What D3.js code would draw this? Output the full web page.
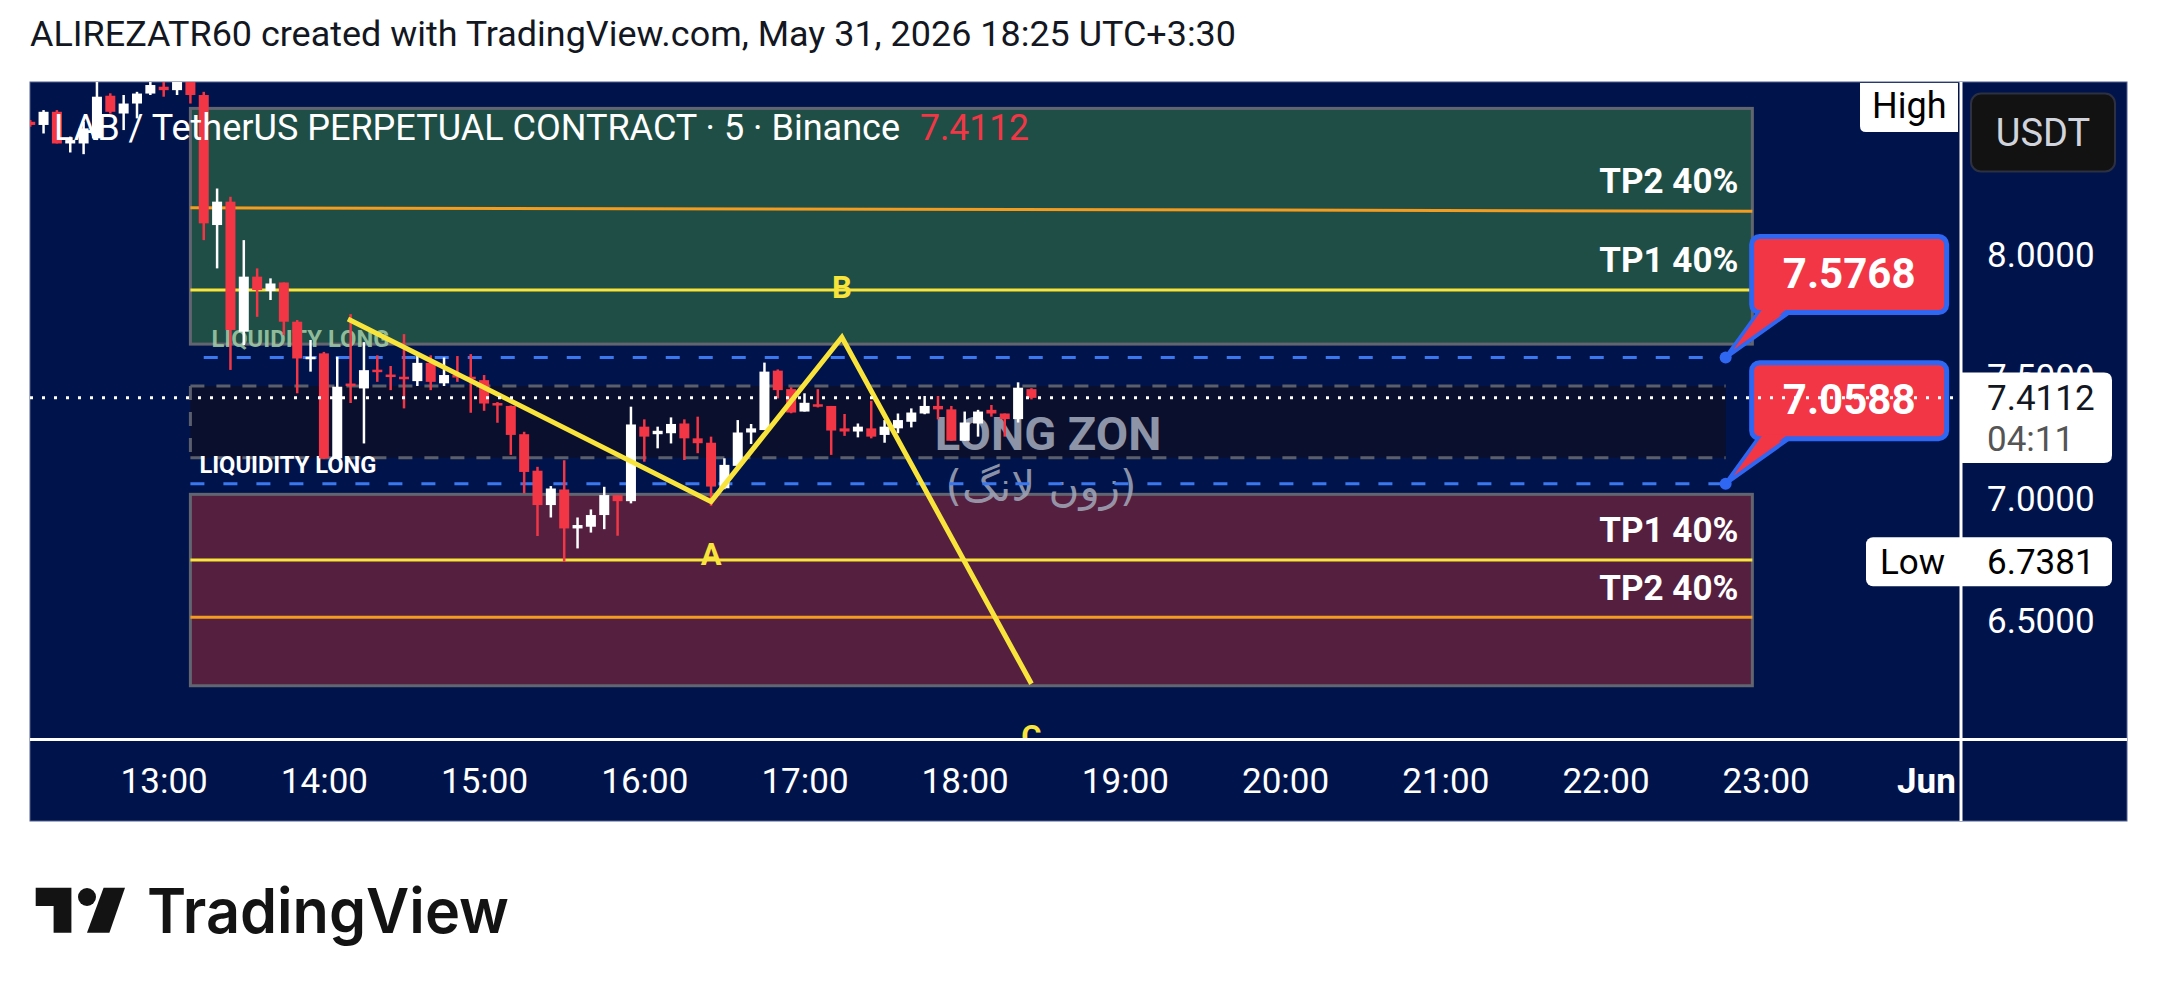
<!DOCTYPE html>
<html><head><meta charset="utf-8">
<script src="https://cdn.jsdelivr.net/npm/d3@7"></script>
<style>body{margin:0;background:#fff;overflow:hidden} svg{display:block}</style>
</head><body>
<svg id="c" width="2157" height="1002"></svg>
<script>
// ---------- DATA ----------
const candleTimes = ["12:10","12:15","12:20","12:25","12:30","12:35","12:40","12:45","12:50","12:55",
"13:00","13:05","13:10","13:15","13:20","13:25","13:30","13:35","13:40","13:45","13:50","13:55",
"14:00","14:05","14:10","14:15","14:20","14:25","14:30","14:35","14:40","14:45","14:50","14:55",
"15:00","15:05","15:10","15:15","15:20","15:25","15:30","15:35","15:40","15:45","15:50","15:55",
"16:00","16:05","16:10","16:15","16:20","16:25","16:30","16:35","16:40","16:45","16:50","16:55",
"17:00","17:05","17:10","17:15","17:20","17:25","17:30","17:35","17:40","17:45","17:50","17:55",
"18:00","18:05","18:10","18:15","18:20","18:25"];
const opens = [8.545,8.532,8.586,8.456,8.456,8.477,8.652,8.579,8.620,8.661,
8.689,8.675,8.709,8.655,8.121,8.217,7.683,7.909,7.850,7.885,7.724,7.573,
7.594,7.163,7.470,7.450,7.527,7.507,7.498,7.480,7.555,7.471,7.505,7.498,
7.484,7.390,7.378,7.262,7.112,6.971,7.035,6.875,6.882,6.930,7.012,6.987,
7.293,7.262,7.266,7.306,7.245,7.227,7.040,7.132,7.269,7.279,7.523,7.447,
7.355,7.385,7.378,7.286,7.273,7.286,7.259,7.286,7.313,7.347,7.378,7.364,
7.235,7.306,7.362,7.347,7.324,7.447];
const highs = [8.552,8.593,8.593,8.484,8.545,8.716,8.662,8.655,8.668,8.716,
8.709,8.730,8.716,8.668,8.271,8.237,8.059,7.943,7.902,7.885,7.731,7.649,
7.600,7.580,7.755,7.640,7.586,7.542,7.673,7.594,7.586,7.577,7.583,7.591,
7.505,7.394,7.380,7.272,7.128,7.049,7.155,6.920,6.953,7.046,7.012,7.375,
7.323,7.293,7.331,7.323,7.334,7.252,7.163,7.320,7.304,7.556,7.528,7.455,
7.430,7.447,7.378,7.345,7.306,7.399,7.320,7.347,7.368,7.419,7.419,7.378,
7.355,7.362,7.382,7.347,7.475,7.451];
const lows = [8.525,8.497,8.456,8.419,8.412,8.470,8.579,8.511,8.559,8.655,
8.648,8.655,8.620,8.059,7.943,7.526,7.628,7.744,7.813,7.669,7.430,7.519,
7.160,7.160,7.390,7.224,7.477,7.443,7.368,7.460,7.443,7.460,7.477,7.350,
7.358,7.309,7.177,7.019,6.844,6.920,6.7381,6.793,6.858,6.872,6.845,6.978,
7.149,7.204,7.224,7.156,7.184,6.968,7.036,7.132,7.222,7.279,7.409,7.348,
7.355,7.372,7.177,7.255,7.249,7.245,7.227,7.266,7.290,7.344,7.323,7.235,
7.235,7.252,7.334,7.252,7.310,7.405];
const closes = [8.532,8.586,8.456,8.470,8.518,8.648,8.586,8.620,8.661,8.696,
8.675,8.709,8.655,8.128,8.217,7.690,7.909,7.854,7.881,7.724,7.573,7.580,
7.163,7.457,7.460,7.525,7.518,7.498,7.491,7.555,7.477,7.505,7.496,7.488,
7.388,7.381,7.259,7.107,6.971,7.039,6.875,6.889,6.930,7.012,6.987,7.302,
7.252,7.276,7.304,7.245,7.225,7.047,7.136,7.269,7.286,7.519,7.443,7.351,
7.391,7.375,7.277,7.273,7.293,7.252,7.293,7.320,7.351,7.378,7.364,7.235,
7.310,7.355,7.347,7.324,7.453,7.4112];

const timeTickLabels = ["13:00","14:00","15:00","16:00","17:00","18:00","19:00","20:00","21:00","22:00","23:00","Jun"];
const priceTicks = [8.0, 7.5, 7.0, 6.5];

// zones: [bottom, top] prices
const zoneTimes = ["13:10","22:55"];
const upperZone = [7.632, 8.600];
const upperTP2 = [8.192, 8.178];   // start / end (slightly sloped)
const upperTP1 = [7.854, 7.854];
const lowerZone = [6.229, 7.015];
const lowerTP1 = [6.745, 6.745];
const lowerTP2 = [6.510, 6.510];
const longBand = [7.1655, 7.460];
const bandTimes = ["13:10","22:45"];
const liquidityLevels = [7.5768, 7.0588];
const liquidityStart = ["13:15","13:10"];
const liquidityEnd = "22:45";
const patternTimes = ["14:09","16:25","17:14","18:25"];
const patternPrices = [7.735, 6.985, 7.660, 6.237];
const patternLabels = ["", "A", "B", "C"];
const lastPrice = 7.4112;
const sessionLow = 6.7381;
const countdown = "04:11";

// ---------- SETUP ----------
const svg = d3.select("#c");
const toMin = s => { if (s === "Jun") return 24*60; const [h,m] = s.split(":").map(Number); return h*60+m; };
const x = d3.scaleLinear().domain([toMin("13:00"), toMin("23:00")]).range([163.7, 1765.7]);
const y = d3.scaleLinear().domain([7, 8]).range([498, 254.5]);

const P = {l:30, t:82, r:2127, b:821, sepY:739.5, sepX:1961};
const C = {bg:"#00144b", red:"#f23645", white:"#ffffff", yellow:"#f9e43c", orange:"#f39c1f",
  blue:"#3b78f0", green:"#1f4e46", maroon:"#551f40", band:"#0a0f2d", gray:"#62656f"};
const FONT = "Roboto, 'Liberation Sans', sans-serif";

// header
svg.append("text").attr("x",30).attr("y",34).attr("dy","0.35em")
  .attr("font-family",FONT).attr("font-size",35).attr("fill","#131722")
  .attr("textLength",1206).attr("lengthAdjust","spacingAndGlyphs")
  .text("ALIREZATR60 created with TradingView.com, May 31, 2026 18:25 UTC+3:30");

// panel
svg.append("rect").attr("x",P.l).attr("y",P.t).attr("width",P.r-P.l).attr("height",P.b-P.t)
  .attr("fill",C.bg).attr("stroke","#50608f").attr("stroke-width",1);

svg.append("clipPath").attr("id","plot").append("rect")
  .attr("x",P.l).attr("y",P.t).attr("width",P.sepX-P.l).attr("height",P.sepY-1.5-P.t);
const g = svg.append("g").attr("clip-path","url(#plot)");

// zones
const zx0 = x(toMin(zoneTimes[0])), zx1 = x(toMin(zoneTimes[1]));
function zone(range, fill){
  g.append("rect").attr("x",zx0).attr("y",y(range[1])).attr("width",zx1-zx0)
   .attr("height",y(range[0])-y(range[1])).attr("fill",fill).attr("stroke",C.gray).attr("stroke-width",3);
}
zone(upperZone, C.green);
zone(lowerZone, C.maroon);
const bx0 = x(toMin(bandTimes[0])), bx1 = x(toMin(bandTimes[1]));
g.append("rect").attr("x",bx0).attr("y",y(longBand[1])).attr("width",bx1-bx0)
  .attr("height",y(longBand[0])-y(longBand[1])).attr("fill",C.band);
[longBand[1], longBand[0]].forEach(v=>{
  g.append("line").attr("x1",bx0).attr("x2",bx1).attr("y1",y(v)).attr("y2",y(v))
   .attr("stroke","#5b5f6b").attr("stroke-width",3).attr("stroke-dasharray","14,12");
});
g.append("line").attr("x1",bx0).attr("x2",bx0).attr("y1",y(longBand[1])).attr("y2",y(longBand[0]))
  .attr("stroke","#5b5f6b").attr("stroke-width",3).attr("stroke-dasharray","14,12");

function tpLine(vals, color){
  g.append("line").attr("x1",zx0).attr("x2",zx1).attr("y1",y(vals[0])).attr("y2",y(vals[1]))
   .attr("stroke",color).attr("stroke-width",3);
}
tpLine(upperTP2, C.orange); tpLine(upperTP1, C.yellow);
tpLine(lowerTP1, C.yellow); tpLine(lowerTP2, C.orange);

function tpLabel(vals, txt){
  g.append("text").attr("x",zx1-14).attr("y",y(vals[1])-30).attr("dy","0.35em")
   .attr("text-anchor","end").attr("font-family",FONT).attr("font-weight",700)
   .attr("font-size",35).attr("fill","#fff")
   .attr("textLength",139).attr("lengthAdjust","spacingAndGlyphs").text(txt);
}
tpLabel(upperTP2,"TP2 40%"); tpLabel(upperTP1,"TP1 40%");
tpLabel(lowerTP1,"TP1 40%"); tpLabel(lowerTP2,"TP2 40%");

// zone texts
g.append("text").attr("x",zx0+21).attr("y",y(upperZone[0])-6).attr("dy","0.35em")
  .attr("font-family",FONT).attr("font-weight",700).attr("font-size",24)
  .attr("fill","#a4cfa9").attr("opacity",0.85)
  .attr("textLength",178).attr("lengthAdjust","spacingAndGlyphs").text("LIQUIDITY LONG");
g.append("text").attr("x",zx0+9).attr("y",y(longBand[0])+6.5).attr("dy","0.35em")
  .attr("font-family",FONT).attr("font-weight",700).attr("font-size",24)
  .attr("fill","#fff").attr("textLength",177).attr("lengthAdjust","spacingAndGlyphs").text("LIQUIDITY LONG");
g.append("text").attr("x",1048).attr("y",y(longBand[0])-24).attr("dy","0.35em")
  .attr("text-anchor","middle").attr("font-family",FONT).attr("font-weight",700)
  .attr("font-size",47).attr("fill","#8d94a7").text("LONG ZON");
g.append("text").attr("x",1041).attr("y",y(longBand[0])+29).attr("dy","0.35em")
  .attr("text-anchor","middle").attr("font-family","'DejaVu Sans', sans-serif").attr("font-weight",400)
  .attr("font-size",42).attr("fill","#a3a8ba").attr("opacity",0.85).text("(زون لانگ)");

// liquidity dashed lines
liquidityLevels.forEach((lv,i)=>{
  g.append("line").attr("x1",x(toMin(liquidityStart[i]))).attr("x2",x(toMin(liquidityEnd)))
   .attr("y1",y(lv)).attr("y2",y(lv)).attr("stroke",C.blue).attr("stroke-width",3)
   .attr("stroke-dasharray","14,19");
});

// candles
const candles = candleTimes.map((t,i)=>({t:toMin(t), o:opens[i], h:highs[i], l:lows[i], c:closes[i]}));
const cg = g.append("g");
cg.selectAll("line.w").data(candles).join("line").attr("class","w")
  .attr("x1",d=>x(d.t)).attr("x2",d=>x(d.t)).attr("y1",d=>y(d.h)).attr("y2",d=>y(d.l))
  .attr("stroke",d=>d.c>=d.o?C.white:C.red).attr("stroke-width",2.5);
cg.selectAll("rect.b").data(candles).join("rect").attr("class","b")
  .attr("x",d=>x(d.t)-5).attr("width",10)
  .attr("y",d=>y(Math.max(d.o,d.c)))
  .attr("height",d=>Math.max(2.5, Math.abs(y(d.o)-y(d.c))))
  .attr("fill",d=>d.c>=d.o?C.white:C.red);

// pattern
const pts = patternTimes.map((t,i)=>[x(toMin(t)), y(patternPrices[i])]);
g.append("path").attr("d",d3.line()(pts)).attr("fill","none").attr("stroke",C.yellow)
  .attr("stroke-width",5).attr("stroke-linejoin","miter");
pts.forEach((p,i)=>{
  if(!patternLabels[i]) return;
  const above = i===2;
  g.append("text").attr("x",p[0]).attr("y",above? p[1]-50 : p[1]+52).attr("dy","0.35em")
   .attr("text-anchor","middle").attr("font-family",FONT).attr("font-weight",700)
   .attr("font-size",31).attr("fill",C.yellow).text(patternLabels[i]);
});

// title overlay
g.append("text").attr("x",54).attr("y",127.5).attr("dy","0.35em")
  .attr("font-family",FONT).attr("font-size",36).attr("fill","#fff")
  .attr("textLength",846).attr("lengthAdjust","spacingAndGlyphs")
  .text("LAB / TetherUS PERPETUAL CONTRACT · 5 · Binance");
g.append("text").attr("x",920).attr("y",127.5).attr("dy","0.35em")
  .attr("font-family",FONT).attr("font-size",36).attr("fill",C.red)
  .attr("textLength",109).attr("lengthAdjust","spacingAndGlyphs")
  .text(d3.format(".4f")(lastPrice));

// callouts
liquidityLevels.forEach(lv=>{
  const cx = x(toMin(liquidityEnd)), cy = y(lv);
  svg.append("path").attr("d",`M${cx+34},${cy-47} L${cx+66},${cy-47} L${cx},${cy} Z`)
    .attr("fill",C.red).attr("stroke","#2f66f2").attr("stroke-width",4).attr("stroke-linejoin","round");
  svg.append("rect").attr("x",cx+26).attr("y",cy-121).attr("width",195).attr("height",76).attr("rx",8)
    .attr("fill",C.red).attr("stroke","#2f66f2").attr("stroke-width",5);
  svg.append("path").attr("d",`M${cx+37},${cy-49} L${cx+62},${cy-49} L${cx+8},${cy-8} Z`).attr("fill",C.red);
  svg.append("circle").attr("cx",cx).attr("cy",cy).attr("r",6).attr("fill","#2f66f2");
  svg.append("text").attr("x",cx+123.5).attr("y",cy-84).attr("dy","0.35em").attr("text-anchor","middle")
    .attr("font-family",FONT).attr("font-weight",700).attr("font-size",42).attr("fill","#fff")
    .text(d3.format(".4f")(lv));
});

// current price dotted line
svg.append("line").attr("x1",P.l).attr("x2",P.sepX).attr("y1",y(lastPrice)).attr("y2",y(lastPrice))
  .attr("stroke","#fff").attr("stroke-width",3).attr("stroke-dasharray","3,9");

// separators
svg.append("line").attr("x1",P.l).attr("x2",P.r).attr("y1",P.sepY).attr("y2",P.sepY)
  .attr("stroke","#fff").attr("stroke-width",3);
svg.append("line").attr("x1",P.sepX).attr("x2",P.sepX).attr("y1",P.t).attr("y2",P.b)
  .attr("stroke","#fff").attr("stroke-width",3);

// time axis
const xAxis = d3.axisBottom(x).tickValues(timeTickLabels.map(toMin))
  .tickFormat((d,i)=>timeTickLabels[i]).tickSize(0).tickPadding(0);
const gx = svg.append("g").attr("transform","translate(0,781)").call(xAxis);
gx.select(".domain").remove();
gx.selectAll("text").attr("y",0).attr("dy","0.35em").attr("fill","#fff")
  .style("font-family",FONT).style("font-size","35px")
  .style("font-weight",d=>d===toMin("Jun")?700:400);

// price axis
const yAxis = d3.axisRight(y).tickValues(priceTicks).tickFormat(d3.format(".4f")).tickSize(0).tickPadding(0);
const gy = svg.append("g").attr("transform","translate(1987,0)").call(yAxis);
gy.select(".domain").remove();
gy.selectAll("text").attr("x",0).attr("dy","0.35em").attr("fill","#fff")
  .style("font-family",FONT).style("font-size","35px");

// High label
svg.append("path").attr("d","M1860,83 H1958 V132 H1866 Q1860,132 1860,126 Z").attr("fill","#fff");
svg.append("text").attr("x",1872).attr("y",105).attr("dy","0.35em").attr("font-family",FONT)
  .attr("font-size",36).attr("fill","#000").text("High");

// USDT
svg.append("rect").attr("x",1971).attr("y",93.5).attr("width",144).attr("height",78).attr("rx",10)
  .attr("fill","#121212").attr("stroke","#2c3040").attr("stroke-width",2);
svg.append("text").attr("x",2043).attr("y",133).attr("dy","0.35em").attr("text-anchor","middle")
  .attr("font-family",FONT).attr("font-size",38).attr("fill","#d1d4dc").text("USDT");

// current price label
svg.append("path").attr("d","M1962,372.5 H2104 Q2112,372.5 2112,380.5 V455 Q2112,463 2104,463 H1962 Z").attr("fill","#fff");
svg.append("text").attr("x",1987).attr("y",y(lastPrice)).attr("dy","0.35em").attr("font-family",FONT)
  .attr("font-size",35).attr("fill","#131722").text(d3.format(".4f")(lastPrice));
svg.append("text").attr("x",1987).attr("y",439).attr("dy","0.35em").attr("font-family",FONT)
  .attr("font-size",35).attr("fill","#555").text(countdown);

// Low label
svg.append("rect").attr("x",1866).attr("y",y(sessionLow)-24.5).attr("width",246).attr("height",49).attr("rx",7).attr("fill","#fff");
svg.append("text").attr("x",1880).attr("y",y(sessionLow)).attr("dy","0.35em").attr("font-family",FONT)
  .attr("font-size",35).attr("fill","#000").text("Low");
svg.append("text").attr("x",1987).attr("y",y(sessionLow)).attr("dy","0.35em").attr("font-family",FONT)
  .attr("font-size",35).attr("fill","#000").text(d3.format(".4f")(sessionLow));

// footer logo
const lg = svg.append("g").attr("fill","#131313");
lg.append("path").attr("d","M35.7,887.7 H71.4 V932.7 H53.6 V906 H35.7 Z");
lg.append("circle").attr("cx",87).attr("cy",897).attr("r",9);
lg.append("path").attr("d","M103.6,887.7 H125 L109.4,932.7 H87 Z");
svg.append("text").attr("x",147).attr("y",932.7).attr("font-family","Inter, 'Noto Sans', sans-serif")
  .attr("font-weight",600).attr("font-size",62).attr("fill","#131313")
  .attr("textLength",362).attr("lengthAdjust","spacingAndGlyphs").text("TradingView");
</script>
</body></html>
